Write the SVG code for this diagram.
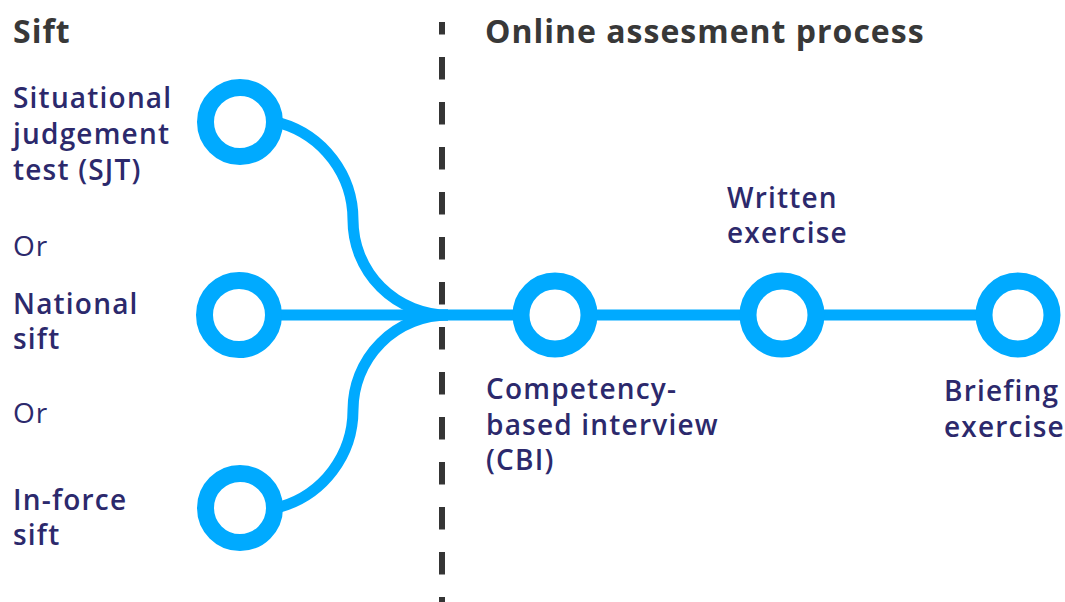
<svg xmlns="http://www.w3.org/2000/svg" width="1065" height="602" viewBox="0 0 1065 602">
<style>
.title{font-family:"Open Sans","Liberation Sans",sans-serif;font-weight:700;font-size:32px;letter-spacing:1px;fill:#383838}
.lbl{font-family:"Open Sans","Liberation Sans",sans-serif;font-weight:600;font-size:28px;letter-spacing:1.2px;fill:#2c296c}
.or{font-family:"Open Sans","Liberation Sans",sans-serif;font-weight:400;font-size:28px;letter-spacing:1px;fill:#2c296c}
.node{fill:#fff;stroke:#00aaff;stroke-width:17}
.conn{fill:none;stroke:#00aaff;stroke-width:11}
.divider{stroke:#353535;stroke-width:6;stroke-dasharray:22.5 22.5;stroke-dashoffset:10}
</style>
<rect width="1065" height="602" fill="#fff"/>
<line class="divider" x1="442" y1="22" x2="442" y2="602"/>
<text class="title" x="13" y="43">Sift</text>
<text class="title" x="485" y="43">Online assesment process</text>
<g id="connectors">
<path class="conn" d="M 280 123 A 101 101 0 0 1 353 220 A 95 95 0 0 0 448 315"/>
<path class="conn" d="M 280 507 A 101 101 0 0 0 353 410 A 95 95 0 0 1 448 315"/>
<line class="conn" x1="240" y1="315" x2="1018" y2="315"/>
</g>
<g id="sjt">
<circle class="node" cx="240" cy="122" r="34.5"/>
<text class="lbl" x="13"><tspan x="13" y="108">Situational</tspan><tspan x="13" y="144">judgement</tspan><tspan x="13" y="180">test (SJT)</tspan></text>
</g>
<text class="or" x="13" y="256">Or</text>
<g id="national">
<circle class="node" cx="239" cy="315" r="34.5"/>
<text class="lbl"><tspan x="13" y="314">National</tspan><tspan x="13" y="349">sift</tspan></text>
</g>
<text class="or" x="13" y="423">Or</text>
<g id="inforce">
<circle class="node" cx="240" cy="508" r="34.5"/>
<text class="lbl"><tspan x="13" y="510">In-force</tspan><tspan x="13" y="545">sift</tspan></text>
</g>
<g id="cbi">
<circle class="node" cx="555" cy="315" r="34"/>
<text class="lbl"><tspan x="486" y="399">Competency-</tspan><tspan x="486" y="435">based interview</tspan><tspan x="486" y="470">(CBI)</tspan></text>
</g>
<g id="written">
<circle class="node" cx="782" cy="315" r="34"/>
<text class="lbl"><tspan x="727" y="208">Written</tspan><tspan x="727" y="243">exercise</tspan></text>
</g>
<g id="briefing">
<circle class="node" cx="1018" cy="315" r="34"/>
<text class="lbl"><tspan x="944" y="401">Briefing</tspan><tspan x="944" y="437">exercise</tspan></text>
</g>
</svg>
